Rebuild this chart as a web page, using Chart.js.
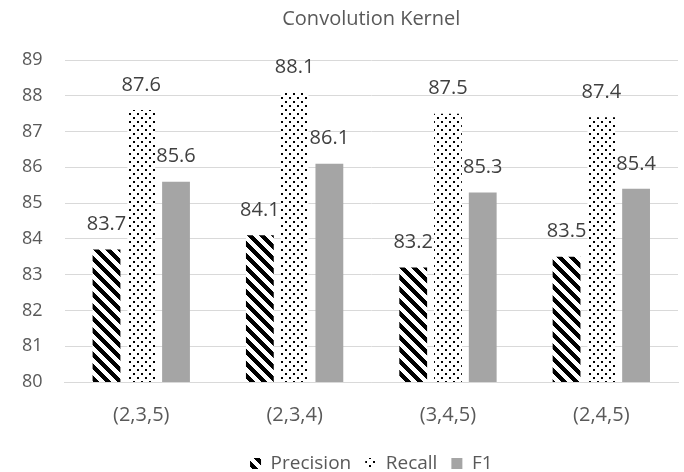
<!DOCTYPE html>
<html lang="en">
<head>
    <meta charset="UTF-8">
    <title>Convolution Kernel</title>
    <script src="https://cdn.jsdelivr.net/npm/chart.js"></script>
    <style>
        body { margin: 0; background: #fff; }
        canvas { display: block; }
    </style>
</head>
<body>
    <canvas id="barChart" width="684" height="472"></canvas>

    <script>
        const kernels = ['(2,3,5)', '(2,3,4)', '(3,4,5)', '(2,4,5)'];
        const precision = [83.7, 84.1, 83.2, 83.5];
        const recall = [87.6, 88.1, 87.5, 87.4];
        const f1 = [85.6, 86.1, 85.3, 85.4];
        const yTicks = [80, 81, 82, 83, 84, 85, 86, 87, 88, 89];

        const FONT = "'Open Sans', 'Liberation Sans', sans-serif";
        const TEXT = '#595959';

        // wide downward diagonal stripes
        function stripePattern() {
            const c = document.createElement('canvas');
            const n = 12;
            c.width = n; c.height = n;
            const ctx = c.getContext('2d');
            const img = ctx.createImageData(n, n);
            for (let y = 0; y < n; y++) {
                for (let x = 0; x < n; x++) {
                    const d = ((x - y) % n + n) % n;
                    const v = d < 6 ? 0 : 255;
                    const i = (y * n + x) * 4;
                    img.data[i] = v; img.data[i + 1] = v; img.data[i + 2] = v; img.data[i + 3] = 255;
                }
            }
            ctx.putImageData(img, 0, 0);
            return ctx.createPattern(c, 'repeat');
        }

        // sparse dots
        function dotPattern() {
            const c = document.createElement('canvas');
            c.width = 8; c.height = 8;
            const ctx = c.getContext('2d');
            ctx.fillStyle = '#fff';
            ctx.fillRect(0, 0, 8, 8);
            ctx.fillStyle = '#000';
            ctx.fillRect(1, 1, 2, 2);
            ctx.fillRect(5, 5, 2, 2);
            return ctx.createPattern(c, 'repeat');
        }

        const valueLabels = {
            id: 'valueLabels',
            afterDatasetsDraw(chart) {
                const ctx = chart.ctx;
                ctx.save();
                ctx.font = '20px ' + FONT;
                ctx.fillStyle = '#404040';
                ctx.textAlign = 'center';
                ctx.textBaseline = 'middle';
                chart.data.datasets.forEach((ds, i) => {
                    chart.getDatasetMeta(i).data.forEach((el, j) => {
                        ctx.fillText(ds.data[j].toFixed(1), el.x, el.y - 25);
                    });
                });
                ctx.restore();
            }
        };

        const ctxBar = document.getElementById('barChart').getContext('2d');
        new Chart(ctxBar, {
            type: 'bar',
            data: {
                labels: kernels,
                datasets: [
                    { label: 'Precision', data: precision, backgroundColor: stripePattern() },
                    { label: 'Recall', data: recall, backgroundColor: dotPattern() },
                    { label: 'F1', data: f1, backgroundColor: '#a5a5a5' }
                ]
            },
            options: {
                responsive: false,
                animation: false,
                categoryPercentage: 0.68,
                barPercentage: 0.8,
                layout: { padding: { left: 0, right: 6, top: 0, bottom: -11 } },
                plugins: {
                    title: {
                        display: true,
                        fullSize: false,
                        text: 'Convolution Kernel',
                        color: TEXT,
                        font: { family: FONT, size: 20, weight: 'normal' },
                        padding: { top: 7, bottom: 29 }
                    },
                    legend: {
                        position: 'bottom',
                        fullSize: false,
                        labels: {
                            color: TEXT,
                            boxWidth: 11,
                            boxHeight: 11,
                            padding: 14,
                            font: { family: FONT, size: 19 }
                        }
                    },
                    tooltip: { enabled: false }
                },
                scales: {
                    x: {
                        grid: { display: false },
                        border: { color: '#d9d9d9' },
                        ticks: { color: TEXT, font: { family: FONT, size: 20 }, padding: 13 }
                    },
                    y: {
                        min: yTicks[0],
                        max: yTicks[yTicks.length - 1],
                        afterBuildTicks: axis => { axis.ticks = yTicks.map(v => ({ value: v })); },
                        grid: { color: '#d9d9d9', drawTicks: false },
                        border: { display: false },
                        ticks: { color: TEXT, font: { family: FONT, size: 18 }, padding: 22 }
                    }
                }
            },
            plugins: [valueLabels]
        });
    </script>
</body>
</html>
